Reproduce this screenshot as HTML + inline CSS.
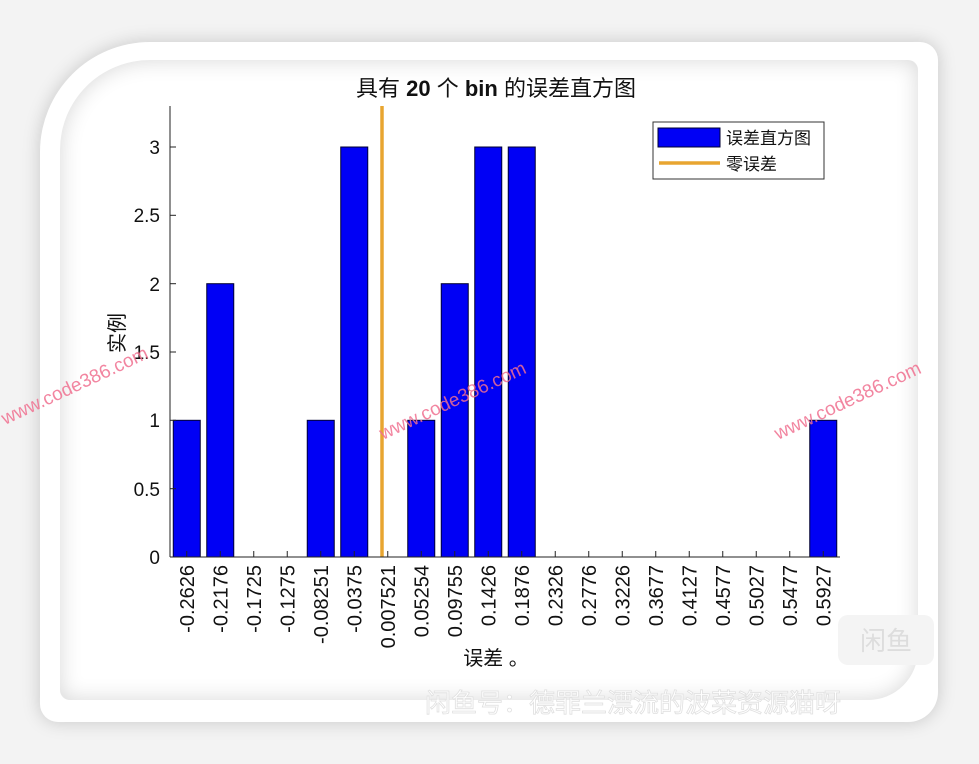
<!DOCTYPE html>
<html><head><meta charset="utf-8"><style>
html,body{margin:0;padding:0;width:979px;height:764px;overflow:hidden;background:#f3f3f3;}
.outer{position:absolute;left:40px;top:42px;width:898px;height:680px;background:#fff;border-radius:110px 18px 30px 18px;box-shadow:0 0 18px rgba(0,0,0,0.18);}
.inner{position:absolute;left:60px;top:60px;width:858px;height:640px;background:#fff;border-radius:90px 10px 50px 10px;box-shadow:inset 0 0 22px rgba(0,0,0,0.16);}
svg{position:absolute;left:0;top:0;}
text{font-family:"Liberation Sans","Noto Sans CJK SC",sans-serif;}
</style></head><body>
<div class="outer"></div><div class="inner"></div>
<svg width="979" height="764" viewBox="0 0 979 764">
<rect x="170" y="106" width="670" height="451" fill="#fff"/>
<text x="496" y="96" font-size="22" text-anchor="middle" fill="#111">具有 <tspan font-weight="bold">20</tspan> 个 <tspan font-weight="bold">bin</tspan> 的误差直方图</text>
<g fill="#0000f5" stroke="#000033" stroke-width="1">
<rect x="173.25" y="420.3" width="27" height="136.7"/>
<rect x="206.75" y="283.7" width="27" height="273.3"/>
<rect x="307.25" y="420.3" width="27" height="136.7"/>
<rect x="340.75" y="147" width="27" height="410"/>
<rect x="407.75" y="420.3" width="27" height="136.7"/>
<rect x="441.25" y="283.7" width="27" height="273.3"/>
<rect x="474.75" y="147" width="27" height="410"/>
<rect x="508.25" y="147" width="27" height="410"/>
<rect x="809.75" y="420.3" width="27" height="136.7"/>
</g>
<line x1="382" y1="106" x2="382" y2="557" stroke="#e8a530" stroke-width="3.5"/>
<g stroke="#222" stroke-width="1">
<line x1="170" y1="106" x2="170" y2="557"/>
<line x1="170" y1="557" x2="840" y2="557"/>
<line x1="170" y1="557" x2="176" y2="557"/>
<line x1="170" y1="488.7" x2="176" y2="488.7"/>
<line x1="170" y1="420.3" x2="176" y2="420.3"/>
<line x1="170" y1="352" x2="176" y2="352"/>
<line x1="170" y1="283.7" x2="176" y2="283.7"/>
<line x1="170" y1="215.3" x2="176" y2="215.3"/>
<line x1="170" y1="147" x2="176" y2="147"/>
</g>
<g stroke="#222" stroke-width="1" id="xt"></g>
<g font-size="19" fill="#111" text-anchor="end">
<text x="160" y="564">0</text>
<text x="160" y="496">0.5</text>
<text x="160" y="427">1</text>
<text x="160" y="359">1.5</text>
<text x="160" y="291">2</text>
<text x="160" y="222">2.5</text>
<text x="160" y="154">3</text>
</g>
<text transform="translate(124,333) rotate(-90)" font-size="20" text-anchor="middle" fill="#111">实例</text>
<g font-size="20" fill="#111" text-anchor="end" id="xl"></g>
<text x="496" y="665" font-size="20" text-anchor="middle" fill="#111">误差 。</text>
<rect x="653" y="122" width="171" height="57" fill="#fff" stroke="#333" stroke-width="1"/>
<rect x="658" y="128" width="62" height="19" fill="#0000f5" stroke="#000033"/>
<line x1="659" y1="163" x2="720" y2="163" stroke="#e8a530" stroke-width="3.5"/>
<text x="726" y="144" font-size="17" fill="#111">误差直方图</text>
<text x="726" y="170" font-size="17" fill="#111">零误差</text>
<g font-size="19" fill="#f07090" opacity="0.85">
<text transform="translate(5,425) rotate(-25)" font-family="Liberation Serif,serif">www.code386.com</text>
<text transform="translate(383,440) rotate(-25)" font-family="Liberation Serif,serif">www.code386.com</text>
<text transform="translate(778,440) rotate(-25)" font-family="Liberation Serif,serif">www.code386.com</text>
</g>
<text x="425" y="712" font-size="26" fill="#fff" stroke="#e0e0e0" stroke-width="0.8">闲鱼号：德罪兰漂流的波菜资源猫呀</text>
<rect x="838" y="615" width="96" height="50" rx="10" fill="#f4f4f4"/>
<text x="886" y="650" font-size="26" text-anchor="middle" fill="#ddd">闲鱼</text>
</svg>
<script>
var labels=["-0.2626","-0.2176","-0.1725","-0.1275","-0.08251","-0.0375","0.007521","0.05254","0.09755","0.1426","0.1876","0.2326","0.2776","0.3226","0.3677","0.4127","0.4577","0.5027","0.5477","0.5927"];
var ns="http://www.w3.org/2000/svg",xl=document.getElementById("xl"),xt=document.getElementById("xt");
labels.forEach(function(l,i){var c=186.75+33.5*i;
var ln=document.createElementNS(ns,"line");ln.setAttribute("x1",c);ln.setAttribute("x2",c);ln.setAttribute("y1",557);ln.setAttribute("y2",551);xt.appendChild(ln);
var t=document.createElementNS(ns,"text");t.setAttribute("transform","translate("+(c+7)+",565) rotate(-90)");t.textContent=l;xl.appendChild(t);});
</script>
</body></html>
